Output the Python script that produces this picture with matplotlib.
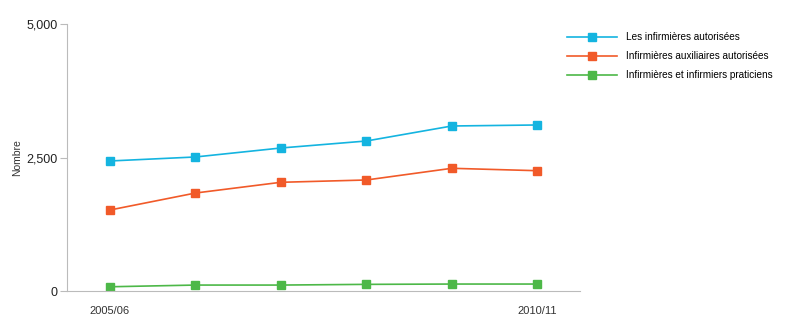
import numpy as np
import matplotlib.pyplot as plt

years = ['2005/06', '2006/07', '2007/08', '2008/09', '2009/10', '2010/11']
shown_labels = ['2005/06', '', '', '', '', '2010/11']
series_names = ['Les infirmières autorisées',
                'Infirmières auxiliaires autorisées',
                'Infirmières et infirmiers praticiens']
rn = [2435, 2510, 2678, 2809, 3090, 3109]
lpn = [1517, 1835, 2036, 2079, 2298, 2253]
np_vals = [80, 112, 112, 125, 131, 131]
colors = ['#14b4e0', '#f15a29', '#4db848']


def main():
    plt.rcParams['font.family'] = ['Liberation Sans Narrow', 'Liberation Sans', 'DejaVu Sans']
    fig = plt.figure(figsize=(8, 3.33), dpi=100)
    ax = fig.add_axes([0.084, 0.126, 0.641, 0.802])
    x = np.arange(len(years))

    for vals, name, c in zip([rn, lpn, np_vals], series_names, colors):
        ax.plot(x, vals, color=c, lw=1.2, marker='s', markersize=6,
                markeredgecolor=c, label=name)

    ax.set_xlim(-0.5, 5.5)
    ax.set_ylim(0, 5000)
    ax.set_yticks([0, 2500, 5000])
    ax.set_yticklabels(['0', '2,500', '5,000'], fontsize=9, color='#222222',
                       family=['Liberation Sans', 'DejaVu Sans'])
    ax.set_xticks(x)
    ax.set_xticklabels(shown_labels, fontsize=8, color='#333333')
    ax.tick_params(axis='x', length=0, pad=11)
    ax.tick_params(axis='y', length=5, color='#bbbbbb', pad=2)
    ax.set_ylabel('Nombre', fontsize=7.5, color='#333333')
    ax.yaxis.set_label_coords(-0.088, 0.5)

    for s in ['top', 'right']:
        ax.spines[s].set_visible(False)
    for s in ['left', 'bottom']:
        ax.spines[s].set_color('#bbbbbb')

    fig.legend(loc='upper left', bbox_to_anchor=(0.698, 0.93), frameon=False,
               fontsize=7.2, handlelength=5.0, labelspacing=0.9,
               handletextpad=0.85)

    fig.savefig('out.png', dpi=100)


if __name__ == '__main__':
    main()
